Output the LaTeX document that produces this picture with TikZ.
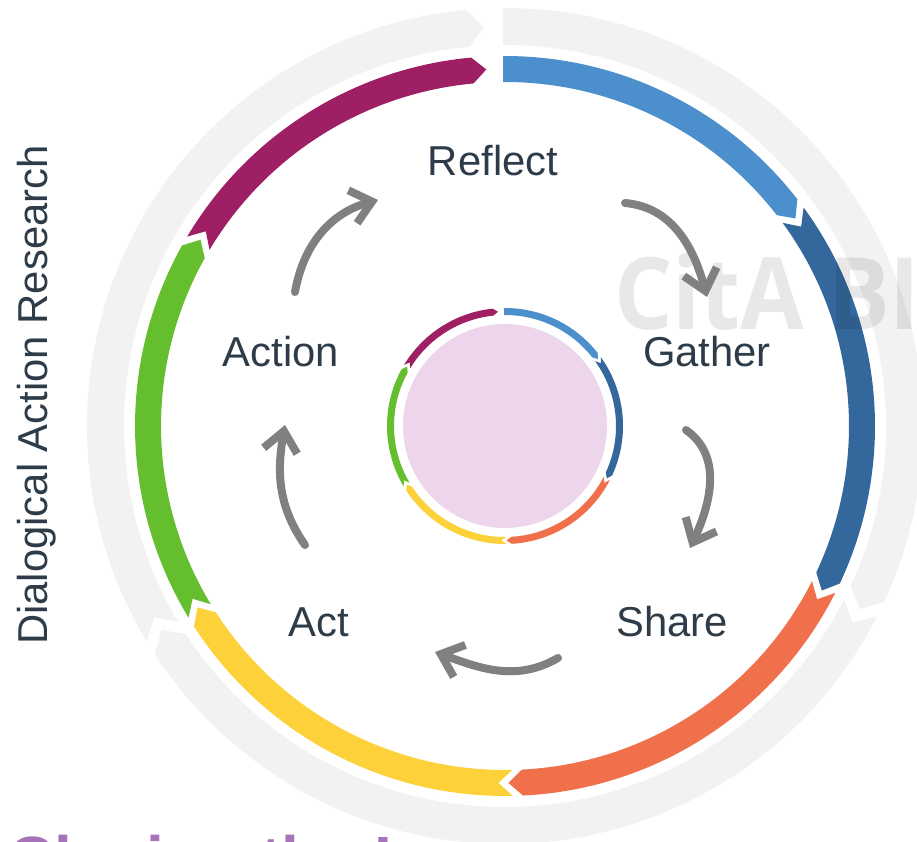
\documentclass[tikz,border=0pt]{standalone}
\usepackage{fontspec}
\setmainfont{Liberation Sans}
\newfontfamily\markfont{Open Sans}
\usetikzlibrary{arrows.meta}
\definecolor{cblue}{RGB}{75,143,205}
\definecolor{cnavy}{RGB}{52,104,156}
\definecolor{corange}{RGB}{240,112,76}
\definecolor{cyellow}{RGB}{253,209,58}
\definecolor{cgreen}{RGB}{100,190,46}
\definecolor{cmagenta}{RGB}{158,31,99}
\definecolor{ringgrey}{RGB}{242,242,242}
\definecolor{hubpink}{RGB}{237,214,236}
\definecolor{labelgrey}{RGB}{45,60,72}
\definecolor{arrowgrey}{RGB}{128,128,128}
\definecolor{footpurple}{RGB}{166,115,185}
\tikzset{lbl/.style={
            font=\fontsize{41.8}{50}\selectfont,
            text=labelgrey,
            anchor=base,
            inner sep=0pt
        },
        cyc/.style={
            draw=arrowgrey,
            line width=8,
            line cap=round,
            -{Straight Barb[length=20pt,width=34pt]}
        },
        hub/.style={
            circle,
            fill=hubpink,
            minimum size=204,
            inner sep=0pt
        }
    }
% colour, start angle, end angle, inner r, outer r, notch depth, tip depth
\newcommand\ringseg[7]{%
  \fill[#1] (#2:#5) arc[start angle=#2,end angle=#3,radius=#5]
    -- (#3-#7:{(#4+#5)/2}) -- (#3:#4)
    arc[start angle=#3,end angle=#2,radius=#4]
    -- (#2-#6:{(#4+#5)/2}) -- cycle;}

\begin{document}
\begin{tikzpicture}[x=1pt,y=1pt,line join=round]
\useasboundingbox (0,0) rectangle (917,841);
\clip (0,0) rectangle (917,841);
\coordinate (c) at (505,415);
% rings
\begin{scope}[shift={(c)}]
\foreach \col/\s/\e/\n in {ringgrey/90.3/-24.9/0,ringgrey/-27.1/-146.9/2.4,ringgrey/211/95.4/2.4}
  \ringseg{\col}{\s}{\e}{381}{418}{\n}{2.4};
\foreach \col/\s/\e/\n in {cblue/90.3/37.8/0,cnavy/36.2/-25.2/2.25,corange/-26.8/-87.2/2.25,cyellow/-88.8/-147.2/2.25,cgreen/211.2/150.8/2.25,cmagenta/149.2/95.25/2.25}
  \ringseg{\col}{\s}{\e}{344}{370}{\n}{2.25};
\foreach \col/\s/\e/\n in {cblue/90.5/38.25/0,cnavy/35.75/-24.75/2.5,corange/-27.25/-86.75/2.5,cyellow/-89.25/-146.75/2.5,cgreen/210.75/151.25/2.5,cmagenta/148.75/96/2.5}
  \ringseg{\col}{\s}{\e}{111}{118}{\n}{2.5};
\end{scope}
\node[hub] (core) at (c) {};
% texts
\node[anchor=base west,inner sep=0pt,xscale=0.92,font=\markfont\bfseries\fontsize{100}{100}\selectfont,text=black,text opacity=0.09] (cita) at (614,511) {CitA BIM};
\node[lbl,rotate=90] (dar) at (47,446) {Dialogical Action Research};
\node[anchor=base west,inner sep=0pt,font=\bfseries\fontsize{64}{64}\selectfont,text=footpurple] (foot) at (8,-40) {Closing the Loop};
\node[lbl] (reflect) at (493,665) {Reflect};
\node[lbl] (gather) at (707,474) {Gather};
\node[lbl] (share) at (672,205) {Share};
\node[lbl] (act) at (319,205) {Act};
\node[lbl] (action) at (281,474) {Action};
% cycle arrows
\coordinate (a2r-a) at (295,549); \coordinate (a2r-b) at (378,641);
\coordinate (r2g-a) at (625,638); \coordinate (r2g-b) at (707,544);
\coordinate (g2s-a) at (686,411); \coordinate (g2s-b) at (690,293);
\coordinate (s2a-a) at (558,183); \coordinate (s2a-b) at (435,189);
\coordinate (a2a-a) at (305,296); \coordinate (a2a-b) at (285,416);
\draw[cyc] (a2r-a) to[out=80,in=195] (a2r-b);
\draw[cyc] (r2g-a) to[out=-5,in=105] (r2g-b);
\draw[cyc] (g2s-a) to[out=-35,in=65] (g2s-b);
\draw[cyc] (s2a-a) to[out=-150,in=-20] (s2a-b);
\draw[cyc] (a2a-a) to[out=125,in=-100] (a2a-b);
\end{tikzpicture}
\end{document}
